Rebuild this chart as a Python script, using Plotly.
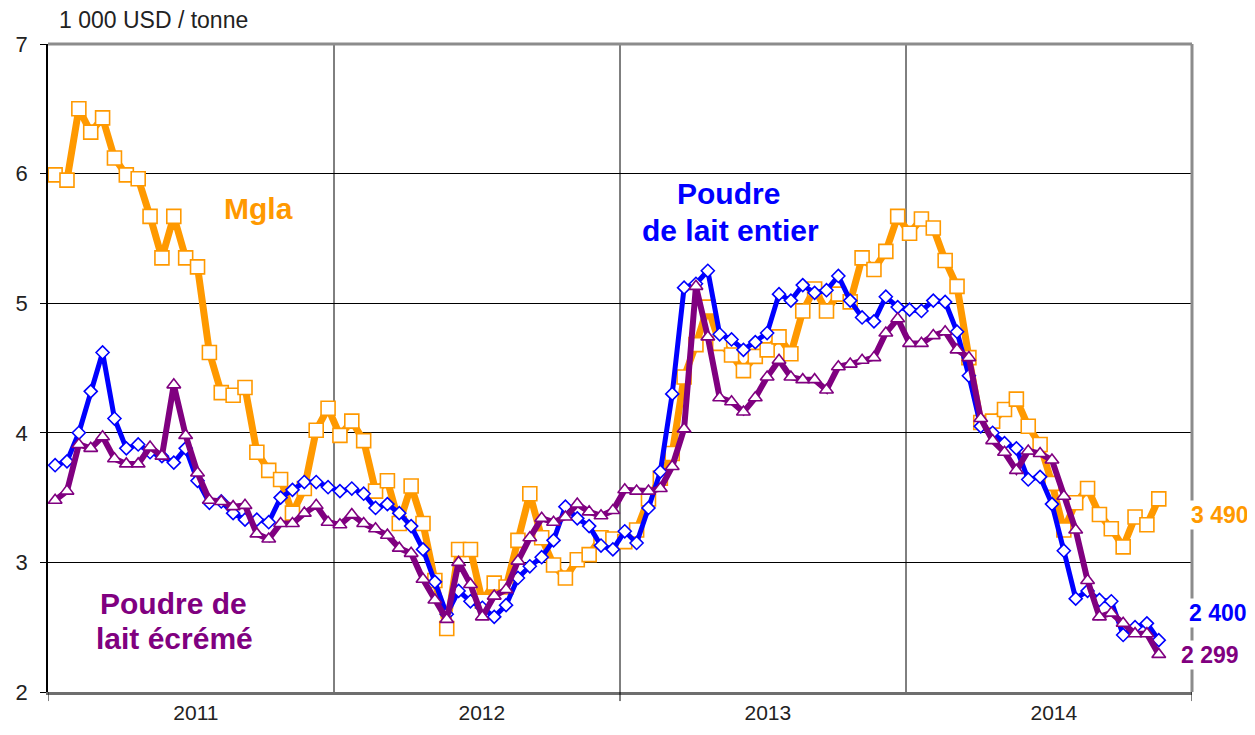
import plotly.graph_objects as go

# ---- data (1 000 USD / tonne), twice-monthly quotations Jan 2011 - Nov 2014 ----
mgla = [5.99, 5.95, 6.50, 6.32, 6.43, 6.12, 5.99, 5.96, 5.67, 5.35,
        5.67, 5.35, 5.28, 4.62, 4.31, 4.29, 4.35, 3.85, 3.71, 3.64,
        3.38, 3.57, 4.02, 4.19, 3.98, 4.09, 3.94, 3.55, 3.63, 3.30,
        3.59, 3.30, 2.86, 2.49, 3.10, 3.10, 2.70, 2.84, 2.81, 3.17,
        3.53, 3.19, 2.98, 2.88, 3.02, 3.06, 3.19, 3.18, 3.16, 3.25,
        3.49, 3.65, 3.84, 4.43, 4.68, 4.97, 4.69, 4.60, 4.48, 4.59,
        4.64, 4.74, 4.61, 4.94, 5.11, 4.94, 5.07, 5.01, 5.35, 5.26,
        5.40, 5.67, 5.54, 5.65, 5.58, 5.33, 5.13, 4.58, 4.08, 4.09,
        4.18, 4.26, 4.05, 3.91, 3.61, 3.25, 3.46, 3.57, 3.37, 3.26,
        3.12, 3.35, 3.29, 3.49]

poudre_entier = [3.75, 3.78, 4.00, 4.32, 4.62, 4.11, 3.88, 3.91, 3.85, 3.82,
                 3.77, 3.88, 3.63, 3.46, 3.47, 3.38, 3.33, 3.33, 3.31, 3.50,
                 3.56, 3.62, 3.62, 3.58, 3.55, 3.57, 3.53, 3.42, 3.45, 3.38,
                 3.28, 3.10, 2.85, 2.60, 2.78, 2.70, 2.65, 2.58, 2.67, 2.88,
                 2.97, 3.04, 3.17, 3.43, 3.34, 3.28, 3.13, 3.10, 3.24, 3.15,
                 3.42, 3.70, 4.30, 5.12, 5.15, 5.25, 4.76, 4.72, 4.64, 4.70,
                 4.77, 5.07, 5.02, 5.14, 5.08, 5.10, 5.21, 5.02, 4.89, 4.86,
                 5.05, 4.97, 4.95, 4.94, 5.02, 5.01, 4.78, 4.44, 4.05, 4.00,
                 3.92, 3.88, 3.64, 3.66, 3.45, 3.09, 2.72, 2.78, 2.71, 2.70,
                 2.44, 2.50, 2.53, 2.40]

poudre_ecreme = [3.48, 3.55, 3.91, 3.88, 3.97, 3.80, 3.76, 3.76, 3.89, 3.82,
                 4.37, 3.98, 3.69, 3.48, 3.47, 3.43, 3.44, 3.22, 3.18, 3.30,
                 3.30, 3.38, 3.44, 3.31, 3.29, 3.37, 3.30, 3.26, 3.21, 3.11,
                 3.07, 2.87, 2.71, 2.56, 3.00, 2.83, 2.58, 2.74, 2.79, 3.01,
                 3.19, 3.34, 3.31, 3.35, 3.45, 3.39, 3.36, 3.40, 3.56, 3.55,
                 3.55, 3.57, 3.74, 4.03, 5.13, 4.74, 4.27, 4.24, 4.16, 4.27,
                 4.43, 4.56, 4.43, 4.41, 4.41, 4.33, 4.51, 4.53, 4.56, 4.58,
                 4.77, 4.88, 4.69, 4.69, 4.75, 4.78, 4.64, 4.58, 4.11, 3.94,
                 3.85, 3.71, 3.86, 3.84, 3.79, 3.51, 3.25, 2.86, 2.58, 2.61,
                 2.53, 2.45, 2.45, 2.29]

years = ["2011", "2012", "2013", "2014"]
year_starts = [2011, 2012, 2013, 2014, 2015]

n = len(mgla)
x = [2011 + (i + 0.6) / 24.1 for i in range(n)]

ORANGE = "#FF9900"
BLUE = "#0000FF"
PURPLE = "#800080"

# the page body has an 8px margin: figure origin sits at (8, 8) in the window
W, H = 1247, 727
L, T = 40, 36
PW, PH = 1144, 648
R = W - L - PW
B = H - T - PH


def px_x(xp):
    return (xp - 8 - L) / PW


def px_y(yp):
    return (H - B - (yp - 8)) / PH


fig = go.Figure()
fig.add_trace(go.Scatter(
    x=x, y=mgla, mode="lines+markers", name="Mgla",
    line=dict(color=ORANGE, width=7),
    marker=dict(symbol="square", size=14, color="white",
                line=dict(color=ORANGE, width=1.6)),
    cliponaxis=False))
fig.add_trace(go.Scatter(
    x=x, y=poudre_entier, mode="lines+markers", name="Poudre de lait entier",
    line=dict(color=BLUE, width=5),
    marker=dict(symbol="diamond", size=10, color="white",
                line=dict(color=BLUE, width=1.6)),
    cliponaxis=False))
fig.add_trace(go.Scatter(
    x=x, y=poudre_ecreme, mode="lines+markers", name="Poudre de lait écrémé",
    line=dict(color=PURPLE, width=6),
    marker=dict(symbol="triangle-up", size=12, color="white",
                line=dict(color=PURPLE, width=1.6)),
    cliponaxis=False))

shapes = []
for ys in year_starts[1:-1]:
    shapes.append(dict(type="line", xref="x", yref="paper", x0=ys, x1=ys,
                       y0=0, y1=1, line=dict(color="black", width=1), layer="below"))
for ys in [2011, 2013, 2015]:
    shapes.append(dict(type="line", xref="x", yref="paper", x0=ys, x1=ys,
                       y0=0, y1=-0.014, line=dict(color="black", width=1)))
shapes.append(dict(type="line", xref="paper", yref="paper", x0=0, x1=1, y0=1, y1=1,
                   line=dict(color="#8c8c8c", width=3)))
shapes.append(dict(type="line", xref="paper", yref="paper", x0=1, x1=1, y0=0, y1=1,
                   line=dict(color="#8c8c8c", width=3)))

FONT = "Liberation Sans, Arial"
ann = []
ann.append(dict(text="1 000 USD / tonne", xref="paper", yref="paper",
                x=px_x(57), y=px_y(20), xanchor="left", yanchor="middle", showarrow=False,
                font=dict(family=FONT, size=23, color="#222")))
labels = [("<b>Mgla</b>", ORANGE, 258, 208),
          ("<b>Poudre</b>", BLUE, 728, 193),
          ("<b>de lait entier</b>", BLUE, 730, 230),
          ("<b>Poudre de</b>", PURPLE, 173, 603),
          ("<b>lait écrémé</b>", PURPLE, 174, 638)]
for txt, col, xc, yc in labels:
    ann.append(dict(text=txt, xref="paper", yref="paper", x=px_x(xc), y=px_y(yc),
                    xanchor="center", yanchor="middle", showarrow=False,
                    font=dict(family=FONT, size=30, color=col)))
for txt, col, xl, yc in [("3 490", ORANGE, 1189, 515), ("2 400", BLUE, 1187, 613),
                         ("2 299", PURPLE, 1179, 655)]:
    ann.append(dict(text="<b>" + txt + "</b>", xref="paper", yref="paper",
                    x=px_x(xl), y=px_y(yc),
                    xanchor="left", yanchor="middle", showarrow=False, bgcolor="white",
                    font=dict(family=FONT, size=23, color=col)))

fig.update_layout(
    width=W, height=H,
    margin=dict(l=L, r=R, t=T, b=B, autoexpand=False),
    paper_bgcolor="white", plot_bgcolor="white",
    showlegend=False,
    shapes=shapes, annotations=ann,
    xaxis=dict(range=[2011, 2015], tickvals=[2011.517, 2012.517, 2013.517, 2014.517],
               ticktext=years, ticks="", showgrid=False, zeroline=False,
               showline=True, linecolor="#6e6e6e", linewidth=3,
               tickfont=dict(family="Liberation Sans Narrow, Arial Narrow, Liberation Sans",
                             size=21, color="#222")),
    yaxis=dict(range=[2, 7], dtick=1, tick0=2, ticks="outside", ticklen=6,
               tickcolor="black", showgrid=True, gridcolor="black", gridwidth=1,
               zeroline=False, showline=True, linecolor="black", linewidth=1.5,
               ticklabelstandoff=8,
               tickfont=dict(family=FONT, size=22, color="#222")),
)

fig.write_html("out.html")
